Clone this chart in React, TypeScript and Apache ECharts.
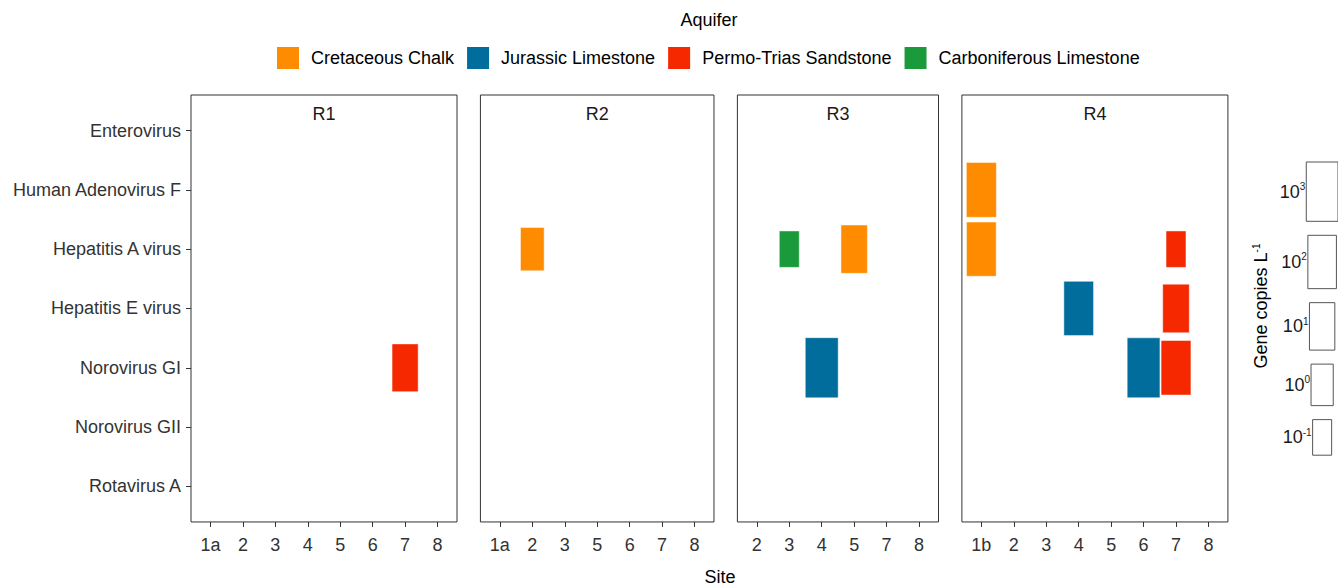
import React, { useEffect, useRef } from "react";
import * as echarts from "echarts";

// ---------- data ----------
const viruses = [
  "Enterovirus",
  "Human Adenovirus F",
  "Hepatitis A virus",
  "Hepatitis E virus",
  "Norovirus GI",
  "Norovirus GII",
  "Rotavirus A",
];
const aquifers = [
  "Cretaceous Chalk",
  "Jurassic Limestone",
  "Permo-Trias Sandstone",
  "Carboniferous Limestone",
];
const aquiferColors = ["#FF8C00", "#006D9C", "#F52800", "#1B9A3B"];

const panels = ["R1", "R2", "R3", "R4"];
const sitesR1 = ["1a", "2", "3", "4", "5", "6", "7", "8"];
const sitesR2 = ["1a", "2", "3", "5", "6", "7", "8"];
const sitesR3 = ["2", "3", "4", "5", "7", "8"];
const sitesR4 = ["1b", "2", "3", "4", "5", "6", "7", "8"];
const panelSites = [sitesR1, sitesR2, sitesR3, sitesR4];

// detections (one entry per tile)
const detPanel = ["R1", "R2", "R3", "R3", "R3", "R4", "R4", "R4", "R4", "R4", "R4", "R4"];
const detSite = ["7", "2", "3", "5", "4", "1b", "1b", "7", "4", "7", "6", "7"];
const detVirus = [
  "Norovirus GI",
  "Hepatitis A virus",
  "Hepatitis A virus",
  "Hepatitis A virus",
  "Norovirus GI",
  "Human Adenovirus F",
  "Hepatitis A virus",
  "Hepatitis A virus",
  "Hepatitis E virus",
  "Hepatitis E virus",
  "Norovirus GI",
  "Norovirus GI",
];
const detAquifer = [
  "Permo-Trias Sandstone",
  "Cretaceous Chalk",
  "Carboniferous Limestone",
  "Cretaceous Chalk",
  "Jurassic Limestone",
  "Cretaceous Chalk",
  "Cretaceous Chalk",
  "Permo-Trias Sandstone",
  "Jurassic Limestone",
  "Permo-Trias Sandstone",
  "Jurassic Limestone",
  "Permo-Trias Sandstone",
];
// log10 gene copies per litre
const detLog10Copies = [1.05, 0.3, -0.85, 1.15, 3.15, 2.25, 2.15, -0.85, 2.15, 1.2, 3.1, 2.2];

// size legend breaks (log10)
const sizeBreaks = [3, 2, 1, 0, -1];

// ---------- layout ----------
const FONT = "'Liberation Sans', Arial, sans-serif";
const PLOT_LEFT = 191;
const PLOT_TOP = 95;
const UNIT_X = 32.44;
const UNIT_Y = 59.3;
const EXPAND = 0.6;
const PANEL_GAP = 23.4;
const PLOT_H = (viruses.length - 1 + 2 * EXPAND) * UNIT_Y;
const LEGEND_BOX_CX = 1322.5;
const LEGEND_TOP = 162;
const LEGEND_GAP = 14;

// size scale: log10 copies -> tile extent in category units
const tileSize = (lg: number) => 0.7 + 0.1 * lg;

export default function App() {
  const ref = useRef<HTMLDivElement>(null);

  useEffect(() => {
    if (!ref.current) return;
    const chart = echarts.init(ref.current, undefined, { renderer: "svg" });

    const grids: any[] = [];
    const xAxes: any[] = [];
    const yAxes: any[] = [];
    const series: any[] = [];
    const graphics: any[] = [];

    let left = PLOT_LEFT;
    panels.forEach((p, pi) => {
      const sites = panelSites[pi];
      const width = (sites.length - 1 + 2 * EXPAND) * UNIT_X;
      grids.push({
        left,
        top: PLOT_TOP,
        width,
        height: PLOT_H,
        show: true,
        borderColor: "#333",
        borderWidth: 1,
        backgroundColor: "#fff",
      });
      const idx = sites.map((_, i) => i);
      xAxes.push({
        gridIndex: pi,
        type: "value",
        position: "bottom",
        min: -EXPAND,
        max: sites.length - 1 + EXPAND,
        axisLine: { show: false, onZero: false },
        splitLine: { show: false },
        axisTick: { show: true, length: 5, lineStyle: { color: "#333" }, customValues: idx },
        axisLabel: {
          customValues: idx,
          formatter: (v: number) => sites[Math.round(v)] ?? "",
          color: "#333",
          fontSize: 18,
          fontFamily: FONT,
          margin: 14,
        },
      });
      const vIdx = viruses.map((_, i) => i);
      yAxes.push({
        gridIndex: pi,
        type: "value",
        position: "left",
        inverse: true,
        min: -EXPAND,
        max: viruses.length - 1 + EXPAND,
        axisLine: { show: false, onZero: false },
        splitLine: { show: false },
        axisTick: { show: pi === 0, length: 5, lineStyle: { color: "#333" }, customValues: vIdx },
        axisLabel: {
          show: pi === 0,
          customValues: vIdx,
          formatter: (v: number) => viruses[Math.round(v)] ?? "",
          color: "#333",
          fontSize: 18,
          fontFamily: FONT,
          margin: 10,
        },
      });

      aquifers.forEach((aq, ai) => {
        const data: number[][] = [];
        detPanel.forEach((dp, k) => {
          if (dp === p && detAquifer[k] === aq) {
            data.push([sites.indexOf(detSite[k]), viruses.indexOf(detVirus[k]), detLog10Copies[k]]);
          }
        });
        const color = aquiferColors[ai];
        series.push({
          type: "custom",
          name: aq,
          xAxisIndex: pi,
          yAxisIndex: pi,
          itemStyle: { color },
          encode: { x: 0, y: 1 },
          data,
          renderItem: (params: any, api: any) => {
            const c = api.coord([api.value(0), api.value(1)]);
            const s = tileSize(api.value(2));
            const sz = api.size([s, s]);
            return {
              type: "rect",
              shape: { x: c[0] - sz[0] / 2, y: c[1] - sz[1] / 2, width: sz[0], height: sz[1] },
              style: { fill: color, stroke: "rgba(255,255,255,0.8)", lineWidth: 0.6 },
            };
          },
        });
      });

      graphics.push({
        type: "text",
        x: left + width / 2,
        y: 114,
        style: {
          text: p,
          fill: "#1a1a1a",
          font: `18px ${FONT}`,
          textAlign: "center",
          textVerticalAlign: "middle",
        },
      });

      left += width + PANEL_GAP;
    });

    // size legend grid
    const lgIndex = panels.length;
    grids.push({
      left: LEGEND_BOX_CX - UNIT_X / 2,
      top: PLOT_TOP,
      width: UNIT_X,
      height: PLOT_H,
      show: false,
    });
    xAxes.push({ gridIndex: lgIndex, type: "value", min: -0.5, max: 0.5, show: false });
    yAxes.push({
      gridIndex: lgIndex,
      type: "value",
      inverse: true,
      min: -EXPAND,
      max: viruses.length - 1 + EXPAND,
      show: false,
    });
    series.push({
      type: "custom",
      xAxisIndex: lgIndex,
      yAxisIndex: lgIndex,
      silent: true,
      data: sizeBreaks.map((b) => [0, 0, b]),
      encode: { x: 0, y: 1 },
      renderItem: (params: any, api: any) => {
        const i = params.dataIndex;
        const cx = api.coord([0, 0])[0];
        let top = LEGEND_TOP;
        for (let k = 0; k < i; k++) top += api.size([0, tileSize(sizeBreaks[k])])[1] + LEGEND_GAP;
        const s = tileSize(sizeBreaks[i]);
        const sz = api.size([s, s]);
        return {
          type: "group",
          children: [
            {
              type: "rect",
              shape: { x: cx - sz[0] / 2, y: top, width: sz[0], height: sz[1] },
              style: { fill: "#fff", stroke: "#555", lineWidth: 1 },
            },
            {
              type: "text",
              x: cx - sz[0] / 2 - 1,
              y: top + sz[1] / 2,
              style: {
                text: `{b|10}{s|${sizeBreaks[i]}}`,
                textAlign: "right",
                textVerticalAlign: "middle",
                rich: {
                  b: { fontSize: 18, fontFamily: FONT, fill: "#1a1a1a", lineHeight: 20 },
                  s: {
                    fontSize: 10,
                    fontFamily: FONT,
                    fill: "#1a1a1a",
                    lineHeight: 10,
                    verticalAlign: "top",
                  },
                },
              },
            },
          ],
        };
      },
    });

    graphics.push(
      {
        type: "text",
        x: 709,
        y: 20,
        style: {
          text: "Aquifer",
          fill: "#000",
          font: `18px ${FONT}`,
          textAlign: "center",
          textVerticalAlign: "middle",
        },
      },
      {
        type: "text",
        x: 720,
        y: 577,
        style: {
          text: "Site",
          fill: "#000",
          font: `18px ${FONT}`,
          textAlign: "center",
          textVerticalAlign: "middle",
        },
      },
      {
        type: "text",
        x: 1261,
        y: 306,
        rotation: Math.PI / 2,
        style: {
          text: "{b|Gene copies L}{s|-1}",
          textAlign: "center",
          textVerticalAlign: "middle",
          rich: {
            b: { fontSize: 18, fontFamily: FONT, fill: "#000", lineHeight: 20 },
            s: { fontSize: 10, fontFamily: FONT, fill: "#000", lineHeight: 10, verticalAlign: "top" },
          },
        },
      }
    );

    chart.setOption({
      animation: false,
      backgroundColor: "#fff",
      textStyle: { fontFamily: FONT },
      legend: {
        data: aquifers,
        left: 272,
        top: 42,
        itemWidth: 22,
        itemHeight: 22,
        itemGap: 13,
        icon: "rect",
        selectedMode: false,
        textStyle: { fontSize: 18, color: "#000", fontFamily: FONT, padding: [0, 0, 0, 7] },
      },
      grid: grids,
      xAxis: xAxes,
      yAxis: yAxes,
      series,
      graphic: graphics,
    });

    return () => chart.dispose();
  }, []);

  return (
    <div
      ref={ref}
      style={{ position: "fixed", left: 0, top: 0, width: 1338, height: 587, background: "#fff" }}
    />
  );
}
